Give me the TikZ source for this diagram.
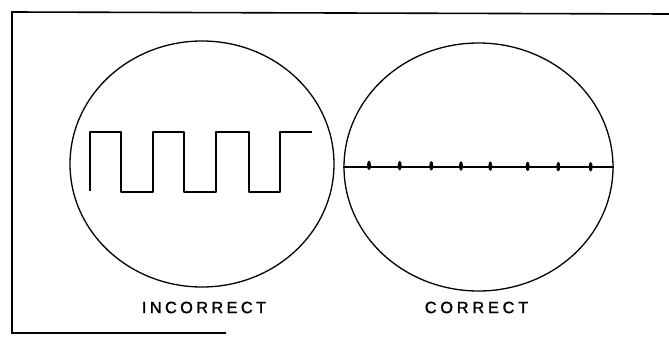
\documentclass[tikz,border=0pt]{standalone}
\usepackage{fontspec}
\setmainfont{Liberation Sans}
\newfontfamily\lblfont{Liberation Sans}[FakeBold=1.6]
\usetikzlibrary{shapes.geometric}
\tikzset{
  scope/.style={draw=black, line width=1.3pt, ellipse, inner sep=0pt},
  trace/.style={draw=black, line width=1.8pt, line join=round},
  frameline/.style={draw=black, line width=1.6pt},
  tick/.style={fill=black, ellipse, inner sep=0pt, minimum width=4pt, minimum height=9.5pt},
  lbl/.style={font=\lblfont\fontsize{16.3}{17}\selectfont, inner sep=0pt}
}
\begin{document}
\begin{tikzpicture}[x=1pt,y=-1pt]
\useasboundingbox (0,0) rectangle (669,343);
% frame
\coordinate (ftr) at (669,14);
\coordinate (ftl) at (12,12);
\coordinate (fbl) at (12,333);
\coordinate (fbr) at (226,333);
\draw[frameline] (ftr) -- (ftl) -- (fbl) -- (fbr);
% scopes
\node[scope, minimum width=264pt, minimum height=246pt] (left) at (202,164) {};
\node[scope, minimum width=269pt, minimum height=248pt] (right) at (478.5,167) {};
% square wave
\draw[trace] (90,191) -- (90,132) -- (121,132) -- (121,192) -- (153,192) -- (153,132)
  -- (184,132) -- (184,192) -- (216,192) -- (216,132) -- (249,132) -- (249,192)
  -- (280,192) -- (280,132) -- (312,132);
% flat trace
\draw[draw=black, line width=1.5pt] (right.west) -- (right.east);
\foreach \x [count=\i] in {369,399.7,431.3,461,490.3,527.7,558.3,590.7}{
  \node[tick] (t\i) at ({\x},{165.3+(\x-344)/269*1.6}) {};
}
% labels
\node[lbl] (inc) at (204,307.5) {I\kern3.4pt N\kern3.4pt C\kern3.4pt O\kern3.4pt R\kern3.4pt R\kern3.4pt E\kern3.4pt C\kern3.4pt T};
\node[lbl] (cor) at (476.5,307.5) {C\kern3.8pt O\kern3.8pt R\kern3.8pt R\kern3.8pt E\kern3.8pt C\kern3.8pt T};
\end{tikzpicture}
\end{document}
